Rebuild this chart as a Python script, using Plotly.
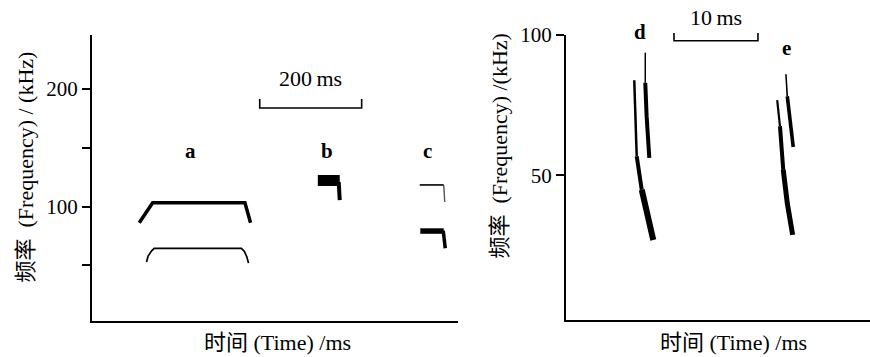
import plotly.graph_objects as go

# ---------------- data ----------------
# Left panel: time in ms, frequency in kHz
a_upper_t = [92.7, 119, 300, 311]
a_upper_f = [86.4, 103.4, 103.4, 86.4]
a_lower_t = [107, 110, 117, 122, 293, 299, 304, 307]
a_lower_f = [53, 58, 62.5, 64.6, 64.6, 62, 57, 52]
b_body_t = [443, 486]
b_body_f = [122.3, 122.3]
b_tail_t = [484, 485, 486]
b_tail_f = [121, 112, 105.5]
c_upper_t = [643, 690, 692]
c_upper_f = [118.5, 118.5, 104]
c_lower_t = [644, 690]
c_lower_f = [79.3, 79.3]
c_tail_t = [689, 691, 693]
c_tail_f = [79.5, 72, 64.6]

# Right panel
d_long_t = [8.13, 8.42, 9.02, 9.80, 10.39]
d_long_f = [83.9, 56.8, 44.9, 35.4, 27.0]
d_short_t = [9.44, 9.44, 9.6, 9.92]
d_short_f = [93.7, 83.0, 71.1, 56.2]
e_long_t = [25.15, 25.48, 25.87, 26.35, 26.99]
e_long_f = [76.8, 67.5, 52.0, 40.1, 28.8]
e_short_t = [26.19, 26.35, 26.75, 27.06]
e_short_f = [86.0, 78.2, 68.7, 60.1]

left_ytick_vals = [50, 100, 150, 200]
left_ytick_text = ["", "100", "", "200"]
right_ytick_vals = [50, 100]
right_ytick_text = ["50", "100"]

scale_left_ms = 200
scale_left_start = 329
scale_right_ms = 10
scale_right_start = 12.86

labels_left = ["a", "b", "c"]
labels_left_t = [194, 461, 659]
labels_right = ["d", "e"]
labels_right_t = [8.8, 26.3]

xtitle = "时间 (Time) /ms"
ytitle_left = "频率\u2002(Frequency) / (kHz)"
ytitle_right = "频率\u2002(Frequency) /(kHz)"

# ---------------- figure ----------------
FONT = "Liberation Serif, Times New Roman, Noto Sans CJK SC, serif"
fig = go.Figure()


def seg(t, f, width, xa, ya, color="black"):
    fig.add_trace(go.Scatter(x=t, y=f, mode="lines", xaxis=xa, yaxis=ya,
                             line=dict(color=color, width=width),
                             hoverinfo="skip", showlegend=False))


# left panel signals
seg(a_upper_t, a_upper_f, 3.5, "x", "y")
seg(a_lower_t, a_lower_f, 1.7, "x", "y")
seg(b_body_t, b_body_f, 11, "x", "y")
seg(b_tail_t, b_tail_f, 4, "x", "y")
seg(c_upper_t[:2], c_upper_f[:2], 1.6, "x", "y")
seg(c_upper_t[1:], c_upper_f[1:], 1.4, "x", "y", "#555")
seg(c_lower_t, c_lower_f, 5.5, "x", "y")
seg(c_tail_t, c_tail_f, 3.5, "x", "y")

# right panel signals
seg(d_long_t[:2], d_long_f[:2], 2.5, "x2", "y2")
seg(d_long_t[1:3], d_long_f[1:3], 4, "x2", "y2")
seg(d_long_t[2:], d_long_f[2:], 6, "x2", "y2")
seg(d_short_t[:2], d_short_f[:2], 1.5, "x2", "y2")
seg(d_short_t[1:], d_short_f[1:], 4, "x2", "y2")
seg(e_long_t[:2], e_long_f[:2], 2.2, "x2", "y2")
seg(e_long_t[1:3], e_long_f[1:3], 4, "x2", "y2")
seg(e_long_t[2:], e_long_f[2:], 5, "x2", "y2")
seg(e_short_t[:2], e_short_f[:2], 1.6, "x2", "y2")
seg(e_short_t[1:], e_short_f[1:], 3.6, "x2", "y2")

# scale bars
sl0, sl1 = scale_left_start, scale_left_start + scale_left_ms
seg([sl0, sl0, sl1, sl1], [191.6, 183.9, 183.9, 191.6], 1.6, "x", "y")
sr0, sr1 = scale_right_start, scale_right_start + scale_right_ms
fig.add_shape(type="path", xref="x2", yref="paper",
              path=f"M {sr0},0.9076 L {sr0},0.886 L {sr1},0.886 L {sr1},0.9076",
              line=dict(color="black", width=1.6))

TXT = dict(family=FONT, size=21, color="black")
TITLE = dict(family=FONT, size=22, color="black")
ann = []


def note(**kw):
    d = dict(showarrow=False, xanchor="center", yanchor="middle", font=TXT)
    d.update(kw)
    ann.append(d)


note(x=(sl0 + sl1) / 2, y=209, xref="x", yref="y",
     text=f"{scale_left_ms}\u2009ms", font=TITLE)
note(x=(sr0 + sr1) / 2, y=(357 - 17) / 357, xref="x2", yref="paper",
     text=f"{scale_right_ms}\u2009ms", font=TITLE)
for lab, t in zip(labels_left, labels_left_t):
    note(x=t, y=147, xref="x", yref="y", text=f"<b>{lab}</b>")
# letters of the right panel, positioned vertically in page units
for lab, t, ypix in zip(labels_right, labels_right_t, [32, 48]):
    note(x=t, y=(357 - ypix) / 357, xref="x2", yref="paper", text=f"<b>{lab}</b>")

# axis titles
note(x=25 / 870, y=(357 - 167.5) / 357, xref="paper", yref="paper",
     text=ytitle_left, textangle=-90, font=TITLE)
note(x=499 / 870, y=(357 - 146.5) / 357, xref="paper", yref="paper",
     text=ytitle_right, textangle=-90, font=TITLE)
note(x=277.5 / 870, y=(357 - 342.5) / 357, xref="paper", yref="paper",
     text=xtitle, font=TITLE)
note(x=733 / 870, y=(357 - 342.5) / 357, xref="paper", yref="paper",
     text=xtitle, font=TITLE)

xcommon = dict(showline=True, linewidth=2, linecolor="black", showticklabels=False,
               ticks="", showgrid=False, zeroline=False, automargin=False)
ycommon = dict(showline=True, linewidth=2, linecolor="black", ticks="outside",
               ticklen=8, tickwidth=2, tickcolor="black", showgrid=False, zeroline=False,
               automargin=False, tickfont=TXT)

fig.update_layout(
    width=870, height=357,
    margin=dict(l=0, r=0, t=0, b=0, pad=0, autoexpand=False),
    paper_bgcolor="white", plot_bgcolor="white",
    showlegend=False,
    xaxis=dict(domain=[92 / 870, 458 / 870], range=[0, 718], anchor="y", **xcommon),
    yaxis=dict(domain=[(357 - 321) / 357, (357 - 35) / 357], range=[2.8, 246],
               anchor="x", tickvals=left_ytick_vals, ticktext=left_ytick_text, **ycommon),
    xaxis2=dict(domain=[566 / 870, 1.0], range=[0, 36.2], anchor="y2", **xcommon),
    yaxis2=dict(domain=[(357 - 320) / 357, (357 - 35) / 357], range=[-1.5, 100],
                anchor="x2", tickvals=right_ytick_vals, ticktext=right_ytick_text, **ycommon),
    annotations=ann,
)

fig.write_html("out.html", config={"displayModeBar": False},
               post_script="document.body.style.margin='0';document.body.style.padding='0';")
